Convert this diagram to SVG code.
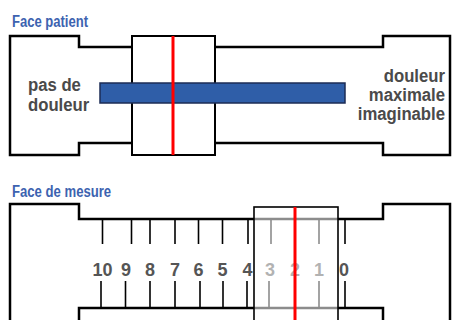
<svg xmlns="http://www.w3.org/2000/svg" width="452" height="320" viewBox="0 0 452 320">
  <style>
    .title { font-family: "Liberation Sans", Arial, sans-serif; font-weight: bold; font-size: 16px; fill: #3d63b0; }
    .label { font-family: "Liberation Sans", Arial, sans-serif; font-weight: bold; font-size: 19px; fill: #4a4a4a; }
    .digit { font-family: "Liberation Sans", Arial, sans-serif; font-weight: bold; font-size: 18px; fill: #555555; text-anchor: middle; }
    .body { fill: #ffffff; stroke: #000000; stroke-width: 2.5; stroke-linejoin: miter; }
    .edge { fill: none; stroke: #000000; stroke-width: 2.5; }
    .tick { stroke: #000000; stroke-width: 1.6; }
    .cursor { fill: #ffffff; fill-opacity: 0.55; stroke: #000000; stroke-width: 1.6; }
    .needle { stroke: #ff0000; stroke-width: 3; }
  </style>

  <!-- patient side -->
  <g id="patient-face">
    <text class="title" transform="translate(12,27) scale(0.815,1)">Face patient</text>
    <path class="body" d="M10,36 H79 V47 H383 V36 H450 V155 H383 V143 H79 V155 H10 Z"/>
    <rect id="patient-slider" x="132" y="36" width="83" height="119" fill="#ffffff" stroke="#000000" stroke-width="2"/>
    <rect id="pain-bar" x="100" y="83" width="245" height="20" fill="#2f5ea8" stroke="#1c2c55" stroke-width="1.5"/>
    <line class="needle" x1="173" y1="36" x2="173" y2="155"/>
    <g id="label-min">
      <text class="label" transform="translate(28,91) scale(0.88,1)">pas de</text>
      <text class="label" transform="translate(28,111) scale(0.88,1)">douleur</text>
    </g>
    <g id="label-max" text-anchor="end">
      <text class="label" transform="translate(445,82) scale(0.88,1)">douleur</text>
      <text class="label" transform="translate(445,101) scale(0.88,1)">maximale</text>
      <text class="label" transform="translate(445,120) scale(0.88,1)">imaginable</text>
    </g>
  </g>

  <!-- measuring side -->
  <g id="measure-face">
    <text class="title" transform="translate(12,197) scale(0.82,1)">Face de mesure</text>
    <path class="edge" d="M10,322 V204 H79 V219 H383 V204 H450 V322"/>
    <path class="edge" d="M79,322 V308 H383 V322"/>

    <g id="scale-ticks">
      <!-- upper ticks -->
      <line class="tick" x1="102.5" y1="219" x2="102.5" y2="244"/>
      <line class="tick" x1="131.5" y1="219" x2="131.5" y2="244"/>
      <line class="tick" x1="150" y1="219" x2="150" y2="244"/>
      <line class="tick" x1="175" y1="219" x2="175" y2="244"/>
      <line class="tick" x1="198.5" y1="219" x2="198.5" y2="244"/>
      <line class="tick" x1="222.5" y1="219" x2="222.5" y2="244"/>
      <line class="tick" x1="248" y1="219" x2="248" y2="244"/>
      <line class="tick" x1="271" y1="219" x2="271" y2="244"/>
      <line class="tick" x1="319" y1="219" x2="319" y2="244"/>
      <line class="tick" x1="345" y1="219" x2="345" y2="244"/>
      <!-- lower ticks -->
      <line class="tick" x1="101" y1="281" x2="101" y2="308"/>
      <line class="tick" x1="125.5" y1="281" x2="125.5" y2="308"/>
      <line class="tick" x1="150" y1="281" x2="150" y2="308"/>
      <line class="tick" x1="175" y1="281" x2="175" y2="308"/>
      <line class="tick" x1="200" y1="281" x2="200" y2="308"/>
      <line class="tick" x1="223" y1="281" x2="223" y2="308"/>
      <line class="tick" x1="247" y1="281" x2="247" y2="308"/>
      <line class="tick" x1="269" y1="281" x2="269" y2="308"/>
      <line class="tick" x1="319" y1="281" x2="319" y2="308"/>
      <line class="tick" x1="345" y1="281" x2="345" y2="308"/>
    </g>

    <g id="scale-digits">
      <text class="digit" x="102.5" y="276">10</text>
      <text class="digit" x="126" y="276">9</text>
      <text class="digit" x="150" y="276">8</text>
      <text class="digit" x="175" y="276">7</text>
      <text class="digit" x="198.5" y="276">6</text>
      <text class="digit" x="222.5" y="276">5</text>
      <text class="digit" x="247.5" y="276">4</text>
      <text class="digit" x="270" y="276">3</text>
      <text class="digit" x="295" y="276">2</text>
      <text class="digit" x="319" y="276">1</text>
      <text class="digit" x="344" y="276">0</text>
    </g>

    <rect id="measure-cursor" class="cursor" x="254" y="207" width="84" height="120"/>
    <line class="needle" x1="295" y1="207" x2="295" y2="322"/>
  </g>
</svg>
